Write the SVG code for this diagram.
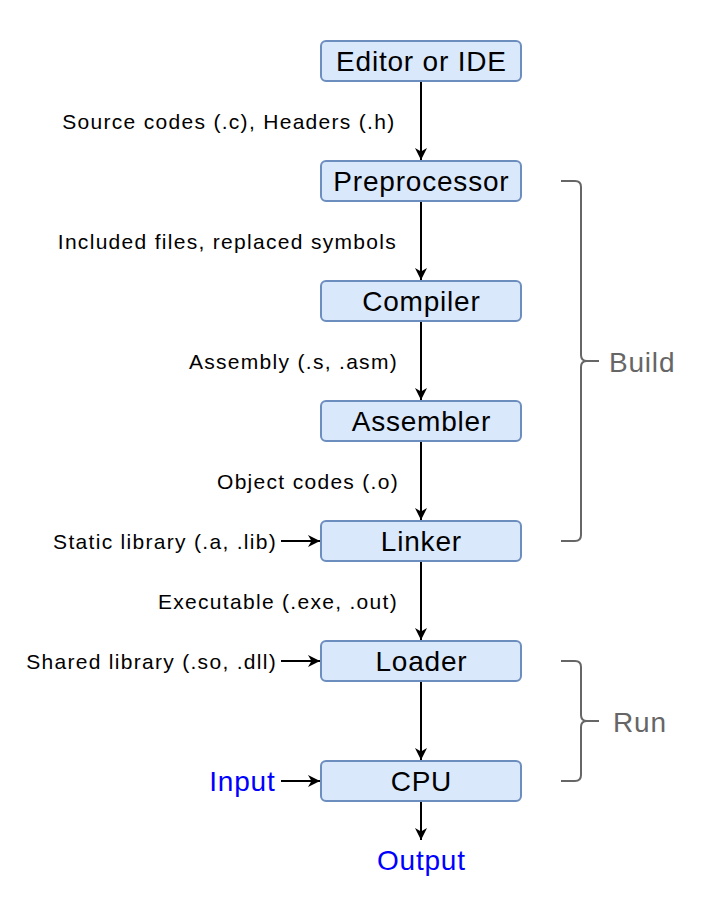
<svg xmlns="http://www.w3.org/2000/svg" width="723" height="923" viewBox="0 0 723 923">
<style>
.node rect{fill:#dae8fc;stroke:#6c8ebf;stroke-width:2}
.node text{font-family:"Liberation Sans",Arial,sans-serif;font-size:28px;letter-spacing:0.8px;fill:#000;text-anchor:middle}
.lbl{font-family:"Liberation Sans",Arial,sans-serif;font-size:21px;letter-spacing:1.3px;fill:#000;text-anchor:end}
.io{font-family:"Liberation Sans",Arial,sans-serif;font-size:28px;letter-spacing:0.8px;fill:#0000ff}
.edge{stroke:#000;stroke-width:2;fill:none;marker-end:url(#arr)}
.brace{stroke:#666;stroke-width:2;fill:none}
.blbl{font-family:"Liberation Sans",Arial,sans-serif;font-size:28px;letter-spacing:0.8px;fill:#666}
</style>
<defs>
<marker id="arr" markerUnits="userSpaceOnUse" markerWidth="13" markerHeight="13" viewBox="0 0 13 13" refX="12" refY="6.5" orient="auto">
<path d="M0,0.5 L12,6.5 L0,12.5 L3.5,6.5 z" fill="#000"/>
</marker>
</defs>
<rect width="723" height="923" fill="#fff"/>
<g id="connectors">
<path class="edge" d="M421,81 V160"/>
<path class="edge" d="M421,201 V280"/>
<path class="edge" d="M421,321 V400"/>
<path class="edge" d="M421,441 V520"/>
<path class="edge" d="M421,561 V640"/>
<path class="edge" d="M421,681 V760"/>
<path class="edge" d="M421,801 V840"/>
<path class="edge" d="M281,541 H320"/>
<path class="edge" d="M281,661 H320"/>
<path class="edge" d="M281,781 H320"/>
<text class="lbl" x="395.5" y="129">Source codes (.c), Headers (.h)</text>
<text class="lbl" x="397" y="249">Included files, replaced symbols</text>
<text class="lbl" x="398" y="369">Assembly (.s, .asm)</text>
<text class="lbl" x="399" y="489">Object codes (.o)</text>
<text class="lbl" x="398" y="609">Executable (.exe, .out)</text>
<text class="lbl" x="277" y="549">Static library (.a, .lib)</text>
<text class="lbl" x="277" y="669">Shared library (.so, .dll)</text>
</g>
<g id="editor" class="node"><rect x="321" y="41" width="200" height="40" rx="5"/><text x="421.4" y="71">Editor or IDE</text></g>
<g id="preprocessor" class="node"><rect x="321" y="161" width="200" height="40" rx="5"/><text x="421.4" y="191">Preprocessor</text></g>
<g id="compiler" class="node"><rect x="321" y="281" width="200" height="40" rx="5"/><text x="421.4" y="311">Compiler</text></g>
<g id="assembler" class="node"><rect x="321" y="401" width="200" height="40" rx="5"/><text x="421.4" y="431">Assembler</text></g>
<g id="linker" class="node"><rect x="321" y="521" width="200" height="40" rx="5"/><text x="421.4" y="551">Linker</text></g>
<g id="loader" class="node"><rect x="321" y="641" width="200" height="40" rx="5"/><text x="421.4" y="671">Loader</text></g>
<g id="cpu" class="node"><rect x="321" y="761" width="200" height="40" rx="5"/><text x="421.4" y="791">CPU</text></g>
<g id="input"><text class="io" x="275.5" y="791" text-anchor="end">Input</text></g>
<g id="output"><text class="io" x="421.4" y="870" text-anchor="middle">Output</text></g>
<g id="build">
<path class="brace" d="M561,181 H575 Q581,181 581,187 V355 Q581,361 587,361 H599 M587,361 Q581,361 581,367 V535 Q581,541 575,541 H561"/>
<text class="blbl" x="609" y="371.5">Build</text>
</g>
<g id="run">
<path class="brace" d="M561,661 H575 Q581,661 581,667 V715 Q581,721 587,721 H599 M587,721 Q581,721 581,727 V775 Q581,781 575,781 H561"/>
<text class="blbl" x="613" y="731.5">Run</text>
</g>
</svg>
